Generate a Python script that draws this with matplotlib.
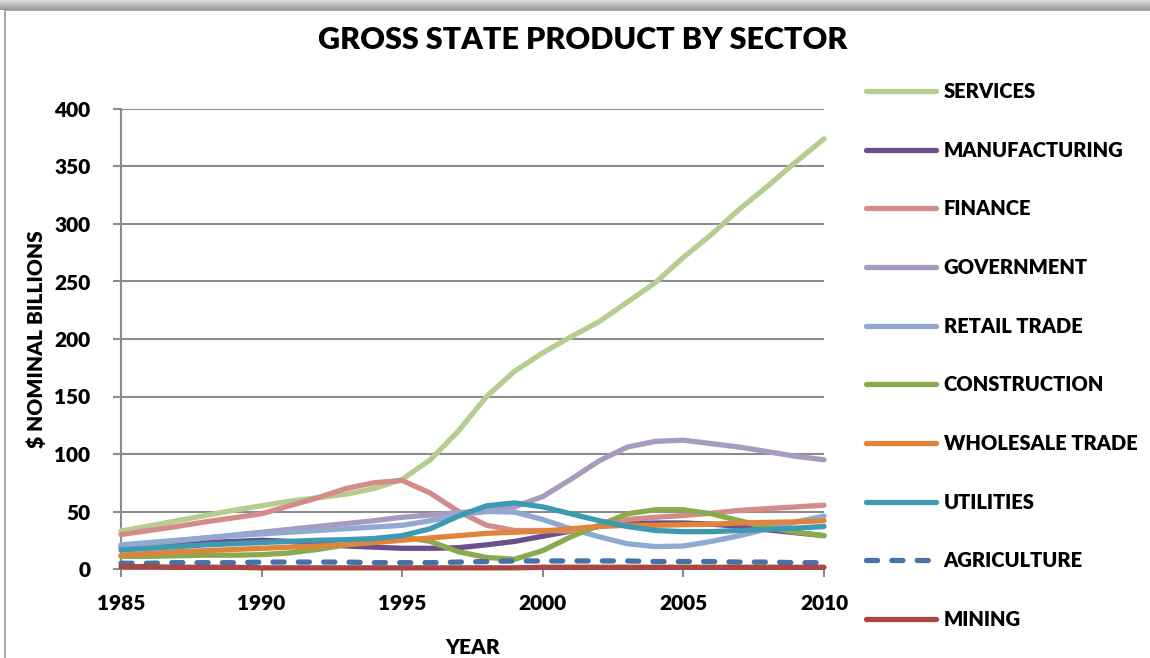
import numpy as np
import matplotlib
matplotlib.use('Agg')
import matplotlib.pyplot as plt

# Gross state product by sector, nominal billions of dollars
years = list(range(1985, 2011))

services = [33, 37.5, 42, 46.5, 51, 55, 59, 62, 65, 70, 78, 95, 120, 150, 172, 188,
            202, 215, 232, 249, 271, 291, 313, 333, 354, 374]
manufacturing = [19, 20, 21.5, 23, 24, 25, 24, 22, 20, 19, 18, 18, 18.5, 21, 24, 28.5,
                 33, 37, 39.5, 40, 40, 39, 37, 34, 31.5, 29]
finance = [30, 33.5, 37, 41, 44.5, 48, 55, 62, 70, 75, 77, 66, 50, 38, 33.5, 33.5,
           33, 37, 43, 45, 46.5, 48.5, 51, 52.5, 54, 55.5]
government = [20, 22, 24.5, 27, 29.5, 32, 34.5, 37, 39.5, 42, 45, 47, 49, 51, 54, 63,
              78, 94, 106, 111, 112, 109, 106, 102, 98, 95]
retail_trade = [21, 23, 25, 27, 29, 30.5, 32, 33.5, 35, 36.5, 38, 42, 47, 50, 49.5, 43,
                35, 28, 22, 19.5, 20, 24, 29, 35, 41, 46]
construction = [11, 11, 11.5, 12, 12, 12.5, 14, 17, 21, 25, 28, 24, 15, 10, 8.5, 16,
                28, 38, 48, 51.5, 51.5, 48, 42, 36, 32, 29]
wholesale_trade = [12, 13.5, 15, 16, 17, 18, 19, 20, 21, 23, 25, 27, 29, 31, 32, 33,
                   35, 37, 38, 38, 38.5, 39, 40, 40.5, 41, 42]
utilities = [16.5, 18, 19.5, 21, 22, 23, 24, 25, 25.5, 26.5, 29, 35, 46, 55, 57.5, 54,
             48, 42, 37, 33.5, 32.5, 32.5, 33.5, 34.5, 35.5, 37]
agriculture = [5, 5, 5.5, 5.5, 5.5, 6, 6, 6, 6, 5.5, 5.5, 5.5, 6, 6.5, 7, 7,
               7, 7, 7, 6.5, 6.5, 6.5, 6, 6, 5.5, 5.5]
mining = [2, 2, 1.5, 1.5, 1.5, 1, 1, 1, 1, 1, 1, 1, 1, 1, 1, 1.5,
          1.5, 1.5, 1.5, 1.5, 1.5, 1.5, 1.5, 1.5, 1.5, 1.5]

sectors = ['SERVICES', 'MANUFACTURING', 'FINANCE', 'GOVERNMENT', 'RETAIL TRADE',
           'CONSTRUCTION', 'WHOLESALE TRADE', 'UTILITIES', 'AGRICULTURE', 'MINING']
series = [services, manufacturing, finance, government, retail_trade,
          construction, wholesale_trade, utilities, agriculture, mining]
colors = ['#B5CE90', '#6B4E8C', '#D48C8A', '#A89BBF', '#8FA9D1',
          '#8AAB4D', '#E0843C', '#3E9AB3', '#4572A7', '#AA4643']

y_ticks = [0, 50, 100, 150, 200, 250, 300, 350, 400]
x_ticks = [1985, 1990, 1995, 2000, 2005, 2010]

plt.rcParams['font.family'] = ['Lato', 'DejaVu Sans']
plt.rcParams['font.weight'] = 'heavy'

fig = plt.figure(figsize=(11.5, 6.58), dpi=100)
ax = fig.add_axes([121 / 1150, 1 - 569 / 658, (824 - 121) / 1150, (569 - 109) / 658])

for name, vals, c in zip(sectors, series, colors):
    if name == 'AGRICULTURE':
        ax.plot(years, vals, color=c, lw=3.8, linestyle=(0, (2.1, 2.7)),
                dash_capstyle='round', label=name, clip_on=False, zorder=3)
    else:
        ax.plot(years, vals, color=c, lw=3.8, solid_capstyle='round',
                solid_joinstyle='round', label=name, clip_on=False, zorder=3)

ax.set_xlim(1985, 2010)
ax.set_ylim(0, 400)
ax.set_xticks(x_ticks)
ax.set_yticks(y_ticks)
ax.yaxis.grid(True, color='#8C8C8C', lw=1.5)
ax.set_axisbelow(True)
for s in ['top', 'right']:
    ax.spines[s].set_visible(False)
for s in ['left', 'bottom']:
    ax.spines[s].set_color('#8C8C8C')
    ax.spines[s].set_linewidth(1.5)
ax.tick_params(axis='both', direction='out', length=6, width=1.5, color='#8C8C8C',
               labelsize=15)
ax.tick_params(axis='x', pad=12)
ax.tick_params(axis='y', pad=16)
for lbl in ax.get_xticklabels() + ax.get_yticklabels():
    lbl.set_fontweight('heavy')

ax.set_xlabel('YEAR', fontsize=15, fontweight='heavy', labelpad=18)
ax.set_ylabel('$ NOMINAL BILLIONS', fontsize=15, fontweight='heavy', labelpad=6)

fig.text(583 / 1150, 1 - 40 / 658, 'GROSS STATE PRODUCT BY SECTOR', ha='center',
         va='center', fontsize=22, fontweight='heavy')

fig.legend(loc='upper left', bbox_to_anchor=(866 / 1150, 1 - 82 / 658), frameon=False,
           prop={'size': 14.5, 'weight': 'heavy'}, handlelength=3.5, handletextpad=0.35,
           labelspacing=1.97, borderpad=0, borderaxespad=0)

# chart frame with a soft shadow along the top edge
frame = plt.Rectangle((5 / 1150, -0.1), 1.2, 1 - 10 / 658 + 0.1, transform=fig.transFigure,
                      fill=False, edgecolor='#9A9A9A', lw=1.2, zorder=0)
fig.patches.append(frame)
shade = fig.add_axes([0, 1 - 10 / 658, 1, 10 / 658])
grad = np.linspace(0.85, 0.6, 10).reshape(-1, 1)
shade.imshow(grad, cmap='gray', vmin=0, vmax=1, aspect='auto', extent=[0, 1, 0, 1])
shade.axis('off')

fig.savefig('out.png', dpi=100)
